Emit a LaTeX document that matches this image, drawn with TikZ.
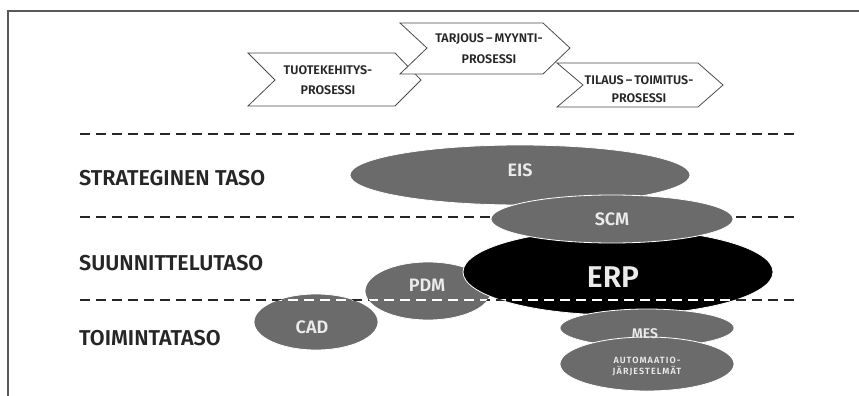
\documentclass[tikz,border=0pt]{standalone}
\usepackage{fontspec}
\setmainfont{Fira Sans}
\newfontfamily\medf{Fira Sans}[UprightFont=* SemiBold, BoldFont=* Bold]
\begin{document}
\begin{tikzpicture}[x=1pt,y=-1pt,
  frameline/.style={draw=black!65,line width=1.6pt},
  chev/.style={draw=black!70,line width=0.8pt,fill=white},
  chevtext/.style={font=\medf\fontsize{12.5}{15}\selectfont,align=center,inner sep=0pt,text=black!85},
  level/.style={font=\medf\fontsize{21.5}{23}\selectfont,anchor=west,inner sep=0pt,text=black!85},
  sysfill/.style={fill=black!58,draw=white,line width=0.8pt},
  systext/.style={font=\medf\fontsize{#1}{#1}\selectfont,text=white!92!black,inner sep=0pt},
  lvlline/.style={dash pattern=on 10pt off 6pt,line width=1.6pt,draw=black!85},
  lvlwhite/.style={dash pattern=on 10pt off 6pt,line width=1.6pt,draw=white}]
\useasboundingbox (0,0) rectangle (859,396);
\fill[white] (0,0) rectangle (859,396);

% outer frame
\draw[frameline] (859,11) -- (8,11) -- (8,396);

% process chevrons
\draw[chev] (248,53) -- (395,53) -- (421,80) -- (395,106) -- (248,106) -- (275,80) -- cycle;
\draw[chev] (400,23) -- (543,23) -- (570,48) -- (543,74) -- (400,74) -- (427,48) -- cycle;
\draw[chev] (557,63) -- (698,63) -- (723,85) -- (698,107) -- (557,107) -- (583,85) -- cycle;
\node[chevtext] (p1) at (328,80) {TUOTEKEHITYS-\\[5pt]PROSESSI};
\node[chevtext] (p2) at (489,49) {TARJOUS\,–\,MYYNTI-\\[6pt]PROSESSI};
\node[chevtext] (p3) at (639,89) {TILAUS\,–\,TOIMITUS-\\[3pt]PROSESSI};

% level boundaries
\coordinate (l1a) at (80,134);  \coordinate (l1b) at (797,134);
\coordinate (l2a) at (80,217);  \coordinate (l2b) at (797,217);
\coordinate (l3a) at (80,300);  \coordinate (l3b) at (797,300);
\draw[lvlline] (l1a) -- (l1b);
\draw[lvlline] (l2a) -- (l2b);

% level names
\node[level] (s1) at (79,178) {STRATEGINEN TASO};
\node[level] (s2) at (79,263) {SUUNNITTELUTASO};
\node[level] (s3) at (79,338) {TOIMINTATASO};

% information systems
\path[sysfill] (520,175) ellipse [x radius=170,y radius=30];
\path[sysfill] (316,322) ellipse [x radius=62,y radius=28];
\path[sysfill] (428,291) ellipse [x radius=63,y radius=29];
\path[fill=black,draw=white,line width=0.8pt] (618,272) ellipse [x radius=155,y radius=43];
\path[sysfill] (612,219) ellipse [x radius=121,y radius=24];
\path[sysfill] (647,328) ellipse [x radius=87,y radius=19];
\path[sysfill] (647,364) ellipse [x radius=87,y radius=27];

% boundary line, white where it crosses the systems
\draw[lvlline] (l3a) -- (l3b);
\begin{scope}
  \clip (316,322) ellipse [x radius=61,y radius=27];
  \draw[lvlwhite] (l3a) -- (l3b);
\end{scope}
\begin{scope}
  \clip (428,291) ellipse [x radius=62,y radius=28];
  \draw[lvlwhite] (l3a) -- (l3b);
\end{scope}
\begin{scope}
  \clip (618,272) ellipse [x radius=154,y radius=42];
  \draw[lvlwhite] (l3a) -- (l3b);
\end{scope}

\node[systext=18] (eis) at (520,170) {EIS};
\node[systext=18] (scm) at (612,219) {SCM};
\node[systext=30] (erp) at (613,277) {ERP};
\node[systext=18] (pdm) at (427,285) {PDM};
\node[systext=18] (cad) at (312,327) {CAD};
\node[systext=14] (mes) at (645,334) {MES};
\node[align=center,inner sep=0pt,text=white!92!black,
      font=\medf\fontsize{9}{11}\selectfont\addfontfeature{LetterSpace=12}] (aut) at (647,367) {AUTOMAATIO-\\JÄRJESTELMÄT};
\end{tikzpicture}
\end{document}
